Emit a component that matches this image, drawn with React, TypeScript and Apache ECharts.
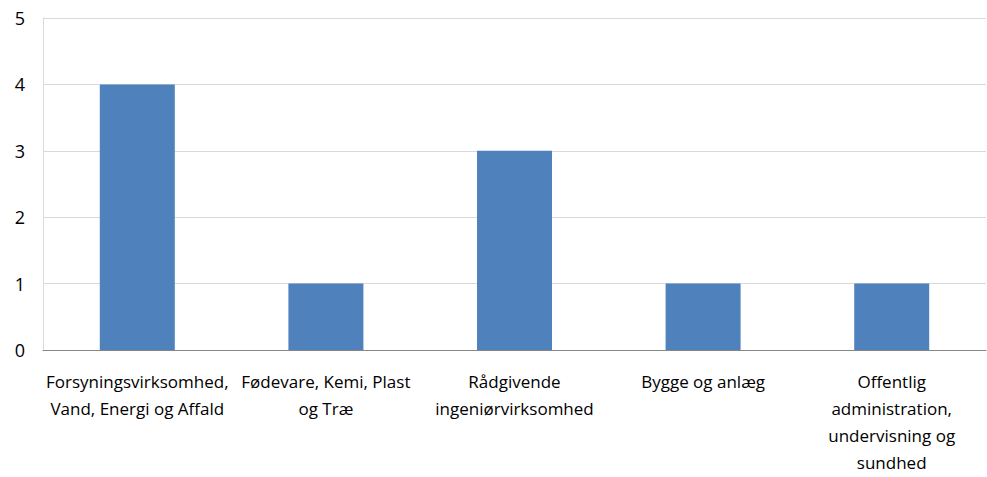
import React, { useEffect, useRef } from "react";
import * as echarts from "echarts";

const categories = [
  "Forsyningsvirksomhed,\nVand, Energi og Affald",
  "Fødevare, Kemi, Plast\nog Træ",
  "Rådgivende\ningeniørvirksomhed",
  "Bygge og anlæg",
  "Offentlig\nadministration,\nundervisning og\nsundhed",
];
const values = [4, 1, 3, 1, 1];
const yTicks = { min: 0, max: 5, interval: 1 };

const FONT = "'Liberation Sans Narrow', 'Open Sans', 'Noto Sans', sans-serif";

export default function App() {
  const ref = useRef<HTMLDivElement>(null);
  useEffect(() => {
    if (!ref.current) return;
    const chart = echarts.init(ref.current, undefined, { renderer: "svg" });
    chart.setOption({
      animation: false,
      grid: { left: 43, right: 1, top: 18, bottom: 127, containLabel: false },
      xAxis: {
        type: "category",
        data: categories,
        axisLine: { lineStyle: { color: "#868686", width: 1 } },
        axisTick: { show: false },
        axisLabel: {
          interval: 0,
          color: "#000",
          fontSize: 17,
          lineHeight: 27,
          margin: 18,
          fontFamily: FONT,
        },
      },
      yAxis: {
        type: "value",
        min: yTicks.min,
        max: yTicks.max,
        interval: yTicks.interval,
        axisLine: { show: true, lineStyle: { color: "#d9d9d9" } },
        axisTick: { show: false },
        splitLine: { lineStyle: { color: "#d9d9d9", width: 1 } },
        axisLabel: { color: "#000", fontSize: 18, margin: 18, fontFamily: FONT },
      },
      series: [
        {
          type: "bar",
          data: values,
          barWidth: 75,
          itemStyle: { color: "#4f81bd" },
        },
      ],
    });
    return () => chart.dispose();
  }, []);
  return <div ref={ref} style={{ width: 987, height: 477, position: "absolute", left: 0, top: 0 }} />;
}
